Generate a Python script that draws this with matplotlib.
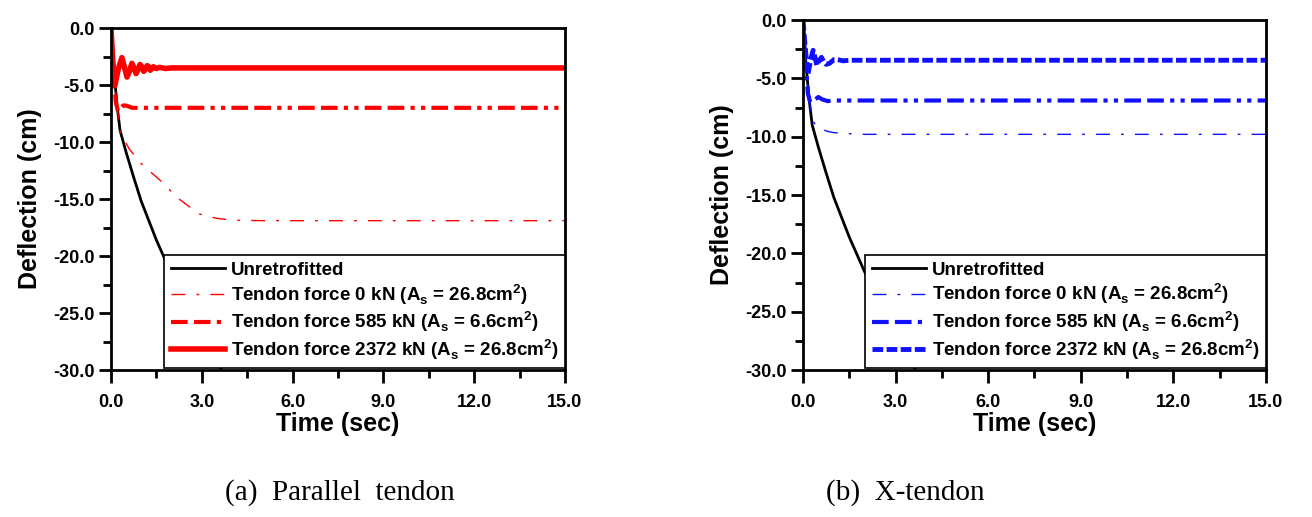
import matplotlib
matplotlib.use("Agg")
import matplotlib.pyplot as plt
import numpy as np

plt.rcParams['font.family'] = ['Liberation Sans', 'DejaVu Sans']

# ---------------- data ----------------
t_unretro = [0.0, 0.05, 0.1, 0.2, 0.3, 0.5, 0.75, 1.0, 1.5, 2.0, 2.5, 3.0, 3.5, 4.0]
d_unretro = [0.0, -2.0, -3.8, -6.8, -9.0, -10.9, -13.1, -15.2, -18.6, -21.6, -24.3, -26.9, -29.3, -31.6]

# (a) Parallel tendon
ta_0 = [0.0, 0.1, 0.2, 0.3, 0.6, 1.0, 1.6, 2.2, 2.9, 3.5, 4.0, 5.0, 8.0, 15.0]
da_0 = [0.0, -3.8, -6.8, -9.1, -10.6, -11.9, -13.3, -14.9, -16.3, -16.7, -16.85, -16.9, -16.9, -16.9]
ta_585 = [0.0, 0.08, 0.16, 0.23, 0.3, 0.4, 0.5, 0.7, 1.0, 2.0, 15.0]
da_585 = [0.0, -3.5, -6.5, -7.3, -7.1, -6.8, -6.8, -7.0, -7.0, -7.0, -7.0]
ta_2372 = [0.0, 0.06, 0.13, 0.24, 0.36, 0.45, 0.53, 0.61, 0.69, 0.76, 0.83, 0.9, 0.96,
           1.02, 1.08, 1.14, 1.2, 1.25, 1.3, 1.35, 1.4, 1.5, 1.6, 1.8, 2.0, 3.0, 15.0]
da_2372 = [0.0, -3.0, -5.0, -3.6, -2.6, -3.5, -4.3, -3.8, -3.1, -3.5, -4.0, -3.6, -3.2,
           -3.4, -3.8, -3.6, -3.3, -3.4, -3.7, -3.55, -3.4, -3.55, -3.45, -3.55, -3.5, -3.5, -3.5]

# (b) X-tendon
tb_0 = [0.0, 0.1, 0.2, 0.3, 0.45, 0.6, 0.8, 1.0, 1.5, 2.0, 15.0]
db_0 = [0.0, -3.8, -6.8, -8.6, -9.1, -9.35, -9.55, -9.65, -9.75, -9.8, -9.8]
tb_585 = [0.0, 0.08, 0.16, 0.23, 0.3, 0.4, 0.5, 0.62, 0.8, 1.0, 2.0, 15.0]
db_585 = [0.0, -3.5, -6.3, -7.0, -7.1, -6.8, -6.6, -6.8, -6.95, -6.9, -6.9, -6.9]
tb_2372 = [0.0, 0.08, 0.16, 0.25, 0.33, 0.4, 0.45, 0.52, 0.6, 0.68, 0.75, 0.87, 1.0, 1.13,
           1.3, 1.5, 2.0, 15.0]
db_2372 = [0.0, -2.5, -4.7, -3.4, -2.6, -3.3, -3.9, -3.5, -3.2, -3.6, -3.8, -3.7, -3.4, -3.4,
           -3.5, -3.45, -3.45, -3.45]

xticks = [0.0, 3.0, 6.0, 9.0, 12.0, 15.0]
yticks = [0.0, -5.0, -10.0, -15.0, -20.0, -25.0, -30.0]
labels = ['Unretrofitted',
          r'Tendon force 0 kN (A$_\mathregular{s}$ = 26.8cm$^\mathregular{2}$)',
          r'Tendon force 585 kN (A$_\mathregular{s}$ = 6.6cm$^\mathregular{2}$)',
          r'Tendon force 2372 kN (A$_\mathregular{s}$ = 26.8cm$^\mathregular{2}$)']
captions = ['(a)  Parallel  tendon', '(b)  X-tendon']

# ---------------- figure ----------------
fig = plt.figure(figsize=(13.12, 5.17), dpi=100)
axA = fig.add_axes([0.0846, 0.2843, 0.346, 0.6615])
axB = fig.add_axes([0.612, 0.2843, 0.3529, 0.677])

red = '#ff0000'
blue = '#1010ff'

def style(ax):
    ax.set_xlim(0, 15)
    ax.set_ylim(-30, 0)
    ax.set_xticks(xticks)
    ax.set_yticks(yticks)
    ax.set_xticklabels([f'{v:.1f}' for v in xticks])
    ax.set_yticklabels([f'{v:.1f}' for v in yticks])
    ax.set_xticks(np.arange(0, 15.01, 1.5), minor=True)
    ax.set_yticks(np.arange(-30, 0.01, 2.5), minor=True)
    for s in ax.spines.values():
        s.set_linewidth(2)
    ax.tick_params(which='major', direction='out', length=9, width=2, labelsize=13)
    ax.tick_params(which='minor', direction='out', length=6, width=2)
    ax.tick_params(axis='x', which='major', pad=8)
    ax.tick_params(axis='y', which='major', pad=3)
    for lab in ax.get_xticklabels() + ax.get_yticklabels():
        lab.set_fontweight('bold')
    ax.set_xlabel('Time (sec)', fontsize=18, fontweight='bold', labelpad=1)
    ax.set_ylabel('Deflection (cm)', fontsize=18, fontweight='bold', labelpad=8)

def draw(ax, col, t0, d0, t585, d585, t2372, d2372, solid_top):
    ax.plot(t_unretro, d_unretro, color='black', lw=2, label=labels[0])
    ax.plot(t0, d0, color=col, lw=1, linestyle=(0, (10, 8, 2, 8)), label=labels[1])
    ax.plot(t585, d585, color=col, lw=3, linestyle=(0, (4, 1.5, 4, 1.5, 1, 1.5, 1, 1.5)), label=labels[2])
    if solid_top:
        ax.plot(t2372, d2372, color=col, lw=4, label=labels[3])
    else:
        ax.plot(t2372, d2372, color=col, lw=3.5, linestyle=(0, (2.2, 0.7)), label=labels[3])
    leg = ax.legend(loc='lower right', bbox_to_anchor=(1.0, 0.005), borderaxespad=0,
                    prop={'weight': 'bold', 'size': 13.5}, fancybox=False, framealpha=1,
                    edgecolor='black', handlelength=2.9, handletextpad=0.3,
                    labelspacing=0.15, borderpad=0.35)
    leg.get_frame().set_linewidth(1.2)

draw(axA, red, ta_0, da_0, ta_585, da_585, ta_2372, da_2372, True)
draw(axB, blue, tb_0, db_0, tb_585, db_585, tb_2372, db_2372, False)
style(axA)
style(axB)

fig.text(340 / 1312, 1 - 493 / 517, captions[0], ha='center', va='center',
         fontsize=21, family=['Liberation Serif', 'DejaVu Serif'])
fig.text(905 / 1312, 1 - 493 / 517, captions[1], ha='center', va='center',
         fontsize=21, family=['Liberation Serif', 'DejaVu Serif'])

fig.savefig('out.png', dpi=100)
